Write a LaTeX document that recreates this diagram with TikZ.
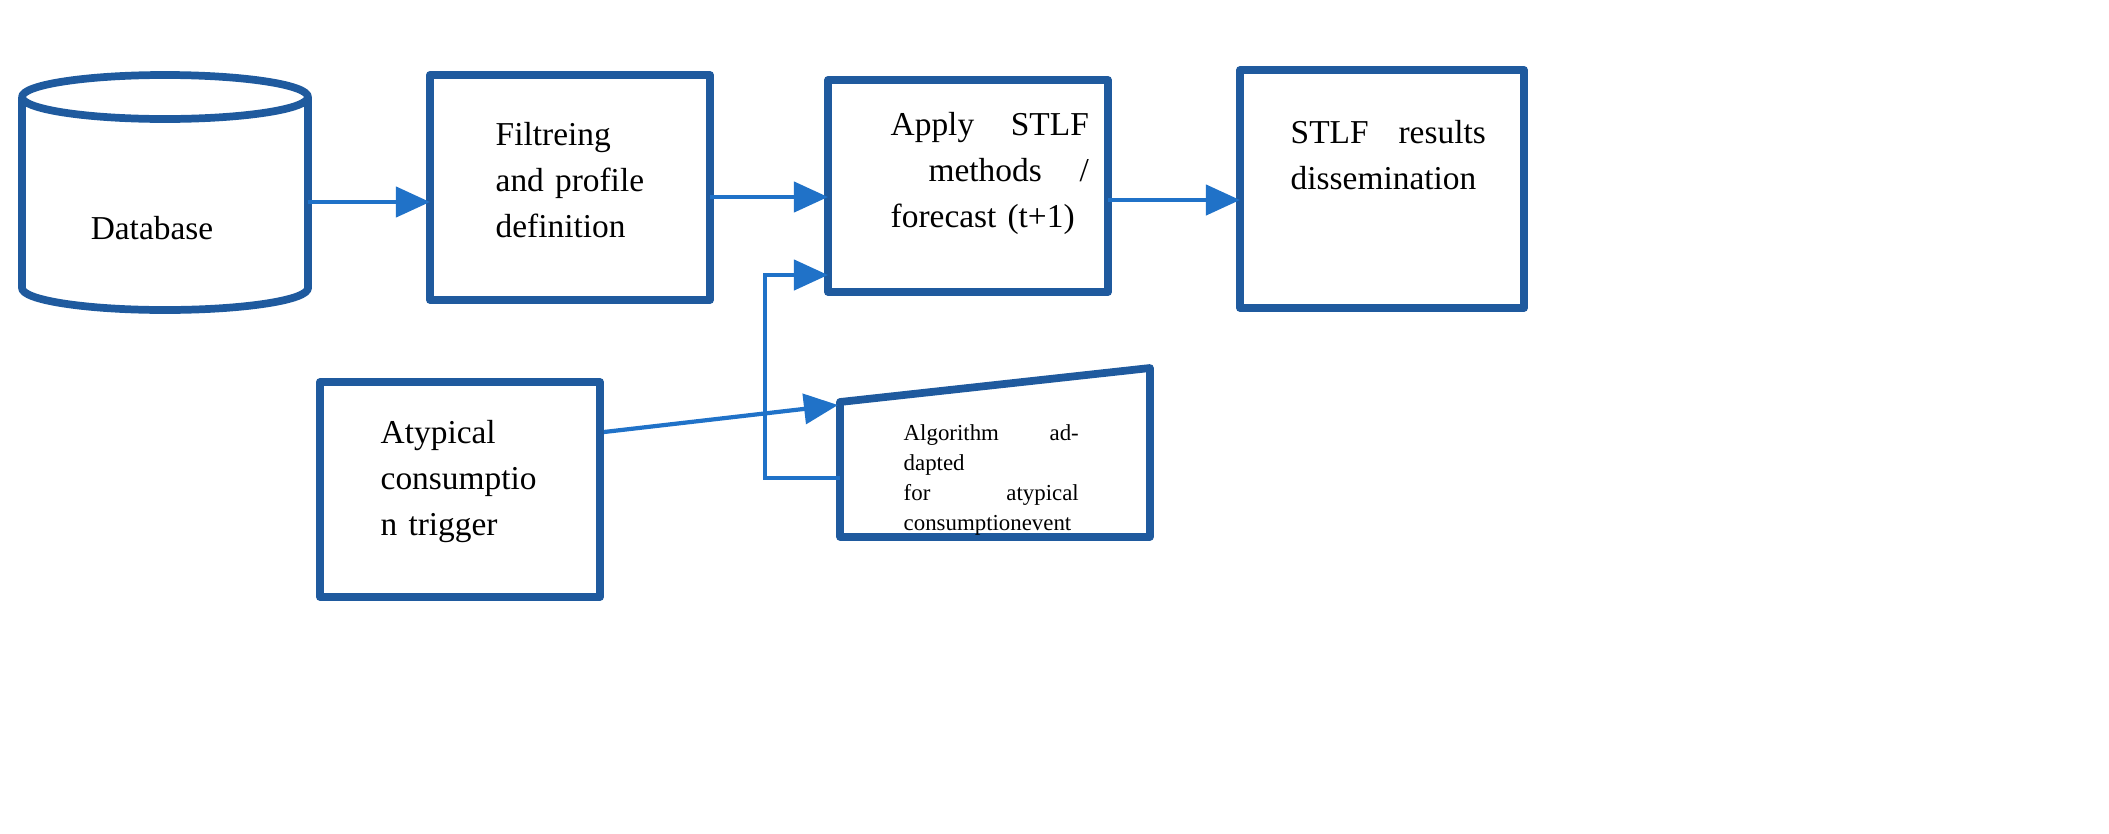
\documentclass[tikz,border=0pt]{standalone}
\usepackage{fontspec}
\setmainfont{Liberation Serif}
\usetikzlibrary{arrows.meta}
\definecolor{bx}{HTML}{1F5A9E}
\definecolor{ar}{HTML}{2072C8}
\begin{document}
\begin{tikzpicture}[x=0.01cm,y=-0.01cm,
  box/.style={draw=bx,line width=2.2pt,line join=round},
  conn/.style={draw=ar,line width=1.2pt,-{Triangle[length=0.34cm,width=0.3cm]}},
  txt/.style={font=\fontsize{9.5}{13}\selectfont,align=left,anchor=north west,inner sep=0pt}]
\useasboundingbox (0,0) rectangle (2109,833);
% database cylinder
\draw[box] (22,97) -- (22,288) arc[start angle=180,end angle=0,x radius=143,y radius=22]
  -- (308,97) arc[start angle=0,end angle=360,x radius=143,y radius=22];
\coordinate (db) at (308,202);
\node[font=\fontsize{9.5}{13}\selectfont] (dbt) at (152,228) {Database};
% boxes
\draw[box] (430,75) rectangle (710,300);
\coordinate (fl) at (430,202); \coordinate (fr) at (710,197);
\node[txt,text width=2.0cm] (ft) at (495,122) {Filtreing\\ and profile\\ definition};
\draw[box] (828,80) rectangle (1108,292);
\coordinate (al) at (828,197); \coordinate (ar1) at (1108,200); \coordinate (al2) at (828,275);
\node[txt,text width=1.98cm] (at) at (890,112) {Apply\hfill STLF\\ \mbox{}\hfill methods\hfill /\\ forecast (t+1)};
\draw[box] (1240,70) rectangle (1524,308);
\coordinate (sl) at (1240,200);
\node[txt,text width=1.95cm] (st) at (1290,120) {STLF\hfill results\\ dissemination};
\draw[box] (320,382) rectangle (600,597);
\coordinate (atr) at (604,432);
\node[txt,text width=1.6cm] (att) at (380,420) {Atypical\\ consumptio\\ n trigger};
\draw[box] (840,402) -- (1150,368) -- (1150,537) -- (840,537) -- cycle;
\coordinate (alg) at (838,405); \coordinate (algl) at (840,478);
\node[txt,font=\fontsize{6.5}{8.5}\selectfont,text width=1.75cm] (algt) at (903,424) {Algorithm\hfill addapted\\ for\hfill atypical\\ consumptionevent};
% connectors
\draw[conn] (db) -- (fl);
\draw[conn] (fr) -- (al);
\draw[conn] (ar1) -- (sl);
\draw[conn] (atr) -- (alg);
\draw[conn] (algl) -- (765,478) -- (765,275) -- (al2);
\end{tikzpicture}
\end{document}
